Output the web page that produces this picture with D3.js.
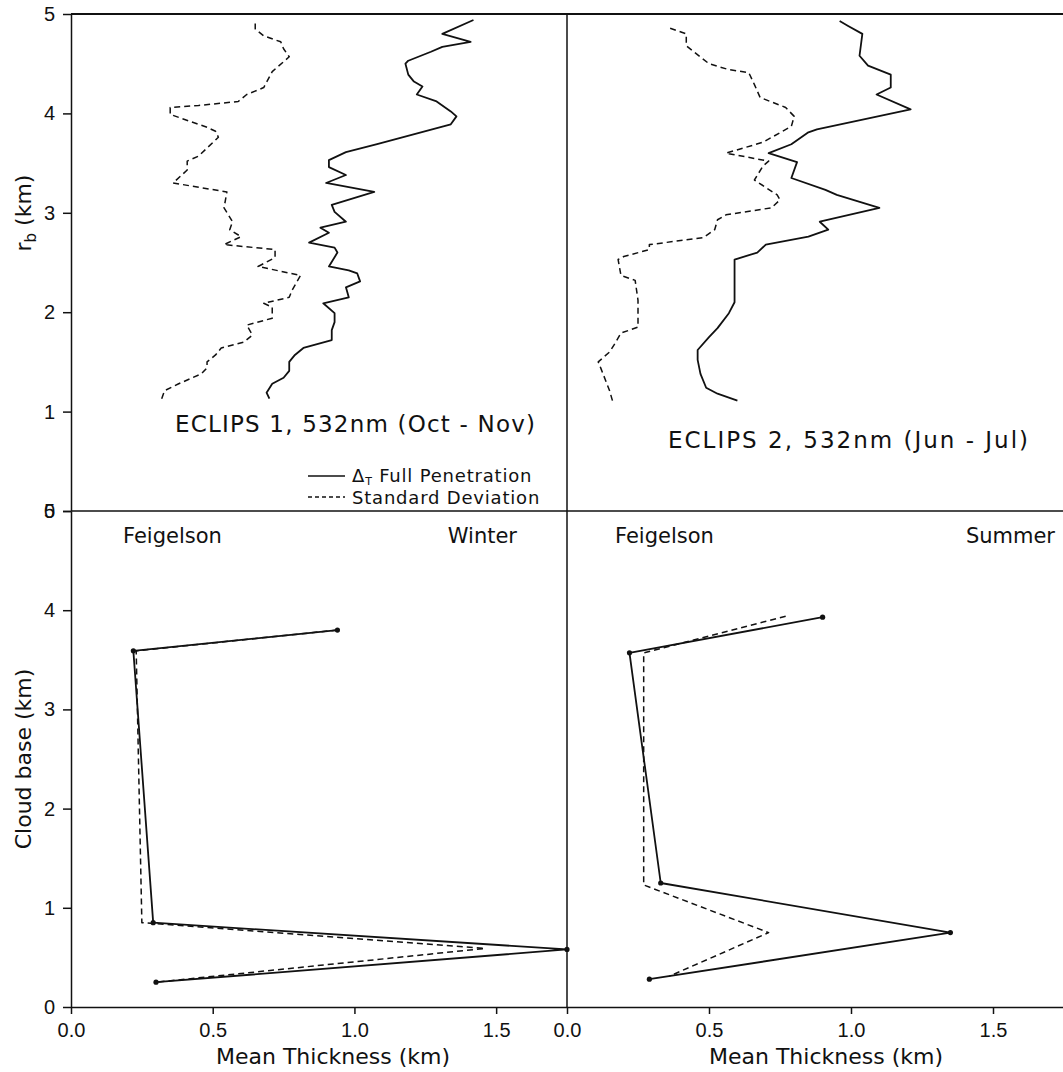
<!DOCTYPE html>
<meta charset="utf-8">
<style>

body {
  margin: 0;
  background: #fff;
}

svg {
  font-family: 'DejaVu Sans', sans-serif;
  fill: #111;
}

.axis path, .axis line, .frame
{
    fill: none;
    stroke: #111;
    stroke-width: 1.5;
}

.axis text
{
    font-size: 20px;
    fill: #111;
}

.title
{
    font-size: 23px;
}

.label
{
    font-size: 21px;
}

.legend
{
    font-size: 18px;
    letter-spacing: 0.8px;
}

.axtitle
{
    font-size: 22px;
}

</style>
<body>
<div id='chart'></div>
<script src="https://cdnjs.cloudflare.com/ajax/libs/d3/7.8.5/d3.min.js"></script>
<script>

// ECLIPS 1 (Oct - Nov), height r_b in km vs. thickness in km
var e1FullHeight = [1.13,1.19,1.28,1.34,1.41,1.50,1.57,1.64,1.72,1.82,1.90,1.99,2.09,2.15,2.25,2.31,2.39,2.42,2.46,2.60,2.65,2.70,2.80,2.85,2.91,3.01,3.08,3.21,3.30,3.38,3.46,3.53,3.61,3.69,3.89,3.97,4.02,4.12,4.19,4.27,4.32,4.39,4.50,4.53,4.62,4.67,4.72,4.80,4.94]
var e1Full = [0.70,0.69,0.71,0.75,0.77,0.77,0.79,0.82,0.92,0.92,0.93,0.93,0.89,0.98,0.97,1.02,1.01,0.98,0.91,0.94,0.93,0.84,0.91,0.88,0.97,0.93,0.92,1.07,0.90,0.97,0.91,0.91,0.97,1.08,1.34,1.36,1.34,1.29,1.22,1.24,1.21,1.19,1.18,1.19,1.27,1.31,1.41,1.31,1.42]
var e1StdHeight = [1.13,1.21,1.28,1.38,1.44,1.50,1.57,1.64,1.70,1.77,1.87,1.94,2.05,2.09,2.15,2.22,2.37,2.46,2.55,2.63,2.68,2.76,2.83,2.91,3.05,3.21,3.30,3.43,3.52,3.57,3.76,3.82,3.86,3.99,4.06,4.08,4.12,4.19,4.26,4.42,4.57,4.65,4.72,4.78,4.85,4.93]
var e1Std = [0.32,0.33,0.38,0.46,0.48,0.48,0.51,0.53,0.61,0.64,0.62,0.71,0.71,0.68,0.77,0.78,0.81,0.66,0.72,0.72,0.54,0.60,0.56,0.57,0.54,0.55,0.36,0.41,0.41,0.45,0.52,0.51,0.48,0.35,0.35,0.45,0.59,0.62,0.68,0.71,0.77,0.75,0.74,0.68,0.65,0.65]

// ECLIPS 2 (Jun - Jul)
var e2FullHeight = [1.11,1.18,1.24,1.38,1.52,1.62,1.75,1.84,1.99,2.10,2.22,2.35,2.53,2.60,2.68,2.76,2.83,2.91,3.05,3.18,3.23,3.35,3.51,3.60,3.69,3.81,3.84,4.04,4.19,4.26,4.39,4.48,4.58,4.80,4.88,4.93]
var e2Full = [0.60,0.53,0.49,0.47,0.46,0.46,0.50,0.53,0.57,0.59,0.59,0.59,0.59,0.67,0.70,0.85,0.92,0.89,1.10,0.95,0.91,0.79,0.81,0.71,0.79,0.85,0.88,1.21,1.09,1.14,1.14,1.06,1.03,1.04,0.99,0.96]
var e2StdHeight = [1.11,1.21,1.43,1.50,1.60,1.69,1.79,1.85,2.12,2.32,2.37,2.53,2.56,2.63,2.68,2.75,2.83,2.93,2.98,3.05,3.13,3.18,3.33,3.47,3.52,3.60,3.71,3.87,3.97,4.06,4.16,4.29,4.41,4.44,4.50,4.68,4.80,4.87]
var e2Std = [0.16,0.15,0.12,0.11,0.15,0.17,0.19,0.25,0.25,0.24,0.19,0.18,0.20,0.29,0.29,0.48,0.52,0.53,0.56,0.72,0.75,0.74,0.66,0.69,0.71,0.56,0.69,0.79,0.80,0.77,0.68,0.66,0.64,0.57,0.50,0.42,0.42,0.35]

// Feigelson, cloud base (km) vs mean thickness (km)
var winterBase = [3.80,3.59,0.85,0.58,0.25]
var winterThick = [0.94,0.22,0.29,1.75,0.30]
var winterDashBase = [3.80,3.59,0.85,0.59,0.25]
var winterDashThick = [0.94,0.23,0.25,1.46,0.30]
var summerBase = [3.93,3.57,1.25,0.75,0.28]
var summerThick = [0.90,0.22,0.33,1.35,0.29]
var summerDashBase = [3.94,3.57,1.23,0.75,0.31]
var summerDashThick = [0.77,0.27,0.27,0.71,0.36]

var yTicks = [0,1,2,3,4,5]
var xTicks = [0,0.5,1,1.5]

var svg = d3.select('#chart')
            .append('svg')
            .attr('width', 1063)
            .attr('height', 1072)

var xL = d3.scaleLinear().domain([0,1.75]).range([71,567])
var xR = d3.scaleLinear().domain([0,1.75]).range([567,1064])
var yTop = d3.scaleLinear().domain([0,5]).range([511,14])
var yBot = d3.scaleLinear().domain([0,5]).range([1007,511])

function zip(xs, ys) {
    return xs.map(function(v, i){ return [v, ys[i]] })
}

function drawLine(data, x, y, dashed) {
    svg.append('path')
       .datum(data)
       .attr('fill', 'none')
       .attr('stroke', '#111')
       .attr('stroke-width', dashed ? 1.5 : 1.8)
       .attr('stroke-dasharray', dashed ? '6,4' : null)
       .attr('stroke-linejoin', 'round')
       .attr('d', d3.line().x(function(d){ return x(d[0]) }).y(function(d){ return y(d[1]) }))
}

function drawDots(data, x, y) {
    svg.selectAll(null)
       .data(data)
       .enter().append('circle')
       .attr('cx', function(d){ return x(d[0]) })
       .attr('cy', function(d){ return y(d[1]) })
       .attr('r', 2.6)
       .attr('fill', '#111')
}

// frame lines
svg.append('line').attr('class','frame')
   .attr('x1', 71).attr('x2', 1063).attr('y1', yTop(5)).attr('y2', yTop(5))
   .style('stroke-width', 2)
svg.append('line').attr('class','frame')
   .attr('x1', 71).attr('x2', 1063).attr('y1', yTop(0)).attr('y2', yTop(0))
svg.append('line').attr('class','frame')
   .attr('x1', xR(0)).attr('x2', xR(0)).attr('y1', yTop(5)).attr('y2', yBot(0))

// axes
svg.append('g').attr('class','axis')
   .attr('transform','translate(71,0)')
   .call(d3.axisLeft(yTop).tickValues(yTicks).tickFormat(d3.format('d')).tickSize(8).tickPadding(8).tickSizeOuter(0))
svg.append('g').attr('class','axis')
   .attr('transform','translate(71,0)')
   .call(d3.axisLeft(yBot).tickValues(yTicks).tickFormat(d3.format('d')).tickSize(8).tickPadding(8).tickSizeOuter(0))
svg.append('g').attr('class','axis')
   .attr('transform','translate(0,1007)')
   .call(d3.axisBottom(xL).tickValues(xTicks).tickFormat(d3.format('.1f')).tickSize(7).tickPadding(9).tickSizeOuter(0))
svg.append('g').attr('class','axis')
   .attr('transform','translate(0,1007)')
   .call(d3.axisBottom(xR).tickValues(xTicks).tickFormat(d3.format('.1f')).tickSize(7).tickPadding(9).tickSizeOuter(0))

// top panels: lidar profiles
drawLine(zip(e1Full, e1FullHeight), xL, yTop, false)
drawLine(zip(e1Std, e1StdHeight), xL, yTop, true)
drawLine(zip(e2Full, e2FullHeight), xR, yTop, false)
drawLine(zip(e2Std, e2StdHeight), xR, yTop, true)

// bottom panels: Feigelson
drawLine(zip(winterDashThick, winterDashBase), xL, yBot, true)
drawLine(zip(winterThick, winterBase), xL, yBot, false)
drawDots(zip(winterThick, winterBase), xL, yBot)
drawLine(zip(summerDashThick, summerDashBase), xR, yBot, true)
drawLine(zip(summerThick, summerBase), xR, yBot, false)
drawDots(zip(summerThick, summerBase), xR, yBot)

// panel titles
svg.append('text')
   .attr('class', 'title')
   .attr('x', 175)
   .attr('y', 432)
   .attr('textLength', 360)
   .attr('lengthAdjust', 'spacing')
   .text('ECLIPS 1, 532nm (Oct - Nov)')

svg.append('text')
   .attr('class', 'title')
   .attr('x', 668)
   .attr('y', 448)
   .attr('textLength', 360)
   .attr('lengthAdjust', 'spacing')
   .text('ECLIPS 2, 532nm (Jun - Jul)')

svg.append('text').attr('class','label').attr('x', 123).attr('y', 543).text('Feigelson')
svg.append('text').attr('class','label').attr('x', 517).attr('y', 543).attr('text-anchor','end').text('Winter')
svg.append('text').attr('class','label').attr('x', 615).attr('y', 543).text('Feigelson')
svg.append('text').attr('class','label').attr('x', 1055).attr('y', 543).attr('text-anchor','end').text('Summer')

// legend
svg.append('line')
   .attr('x1', 308).attr('x2', 345).attr('y1', 476).attr('y2', 476)
   .attr('stroke', '#111').attr('stroke-width', 1.5)
svg.append('line')
   .attr('x1', 308).attr('x2', 345).attr('y1', 497).attr('y2', 497)
   .attr('stroke', '#111').attr('stroke-width', 1.5).attr('stroke-dasharray', '4,3')

var leg1 = svg.append('text').attr('class','legend').attr('x', 352).attr('y', 482)
leg1.append('tspan').text('Δ')
leg1.append('tspan').attr('font-size', '11px').attr('dy', 3).text('T')
leg1.append('tspan').attr('dy', -3).text(' Full Penetration')

svg.append('text').attr('class','legend').attr('x', 352).attr('y', 504)
   .text('Standard Deviation')

// axis titles
svg.append('text').attr('class','axtitle').attr('x', 333).attr('y', 1064).attr('text-anchor','middle').text('Mean Thickness (km)')
svg.append('text').attr('class','axtitle').attr('x', 826).attr('y', 1064).attr('text-anchor','middle').text('Mean Thickness (km)')

var rb = svg.append('text').attr('class','axtitle')
   .attr('transform', 'translate(31,213) rotate(-90)')
   .attr('text-anchor', 'middle')
rb.append('tspan').text('r')
rb.append('tspan').attr('font-size', '15px').attr('dy', 5).text('b')
rb.append('tspan').attr('dy', -5).text(' (km)')

svg.append('text').attr('class','axtitle')
   .attr('transform', 'translate(31,759) rotate(-90)')
   .attr('text-anchor', 'middle')
   .text('Cloud base (km)')

</script>
</body>
